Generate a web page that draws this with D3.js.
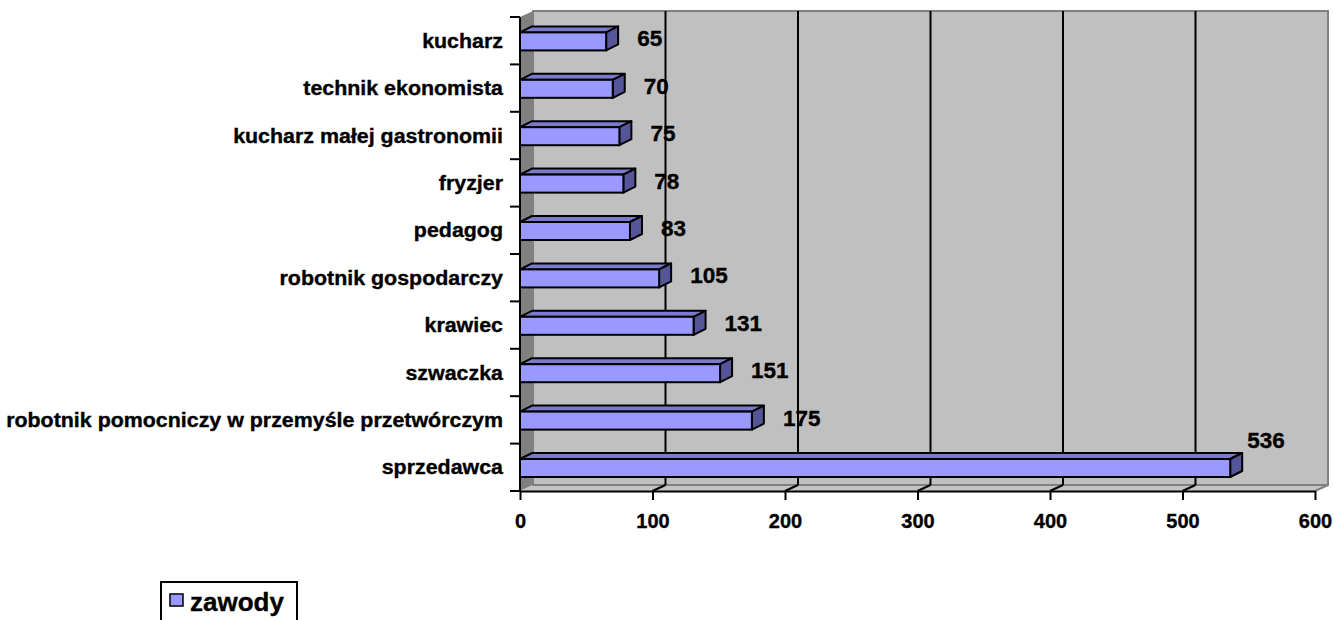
<!DOCTYPE html>
<html>
<head>
<meta charset="utf-8">
<script src="https://cdn.jsdelivr.net/npm/d3@7"></script>
<style>
html,body{margin:0;padding:0;background:#fff;}
svg{display:block;}
text{font-family:"Liberation Sans",Arial,sans-serif;font-weight:bold;fill:#000;stroke:#000;stroke-width:0.35px;}
</style>
</head>
<body>
<svg id="chart" width="1334" height="620"></svg>
<script>
const categories = ["sprzedawca","robotnik pomocniczy w przemyśle przetwórczym","szwaczka","krawiec","robotnik gospodarczy","pedagog","fryzjer","kucharz małej gastronomii","technik ekonomista","kucharz"];
const values = [536,175,151,131,105,83,78,75,70,65];
const xTicks = [0,100,200,300,400,500,600];
const seriesName = "zawody";

(function(){
const svg = d3.select("#chart");
const x = d3.scaleLinear().domain([0,600]).range([520,1315]);
const y = d3.scaleBand().domain(categories).range([491,17]).padding(0);
const DX = 13, DY = -6;     // wall depth
const BDX = 12, BDY = -6;   // bar depth
const step = y.step();
const yTop = 17, yBot = 491;
const pts = a => a.map(p=>p.join(",")).join(" ");

// back wall
svg.append("rect").attr("x",x(0)+DX).attr("y",yTop+DY).attr("width",x(600)-x(0)).attr("height",yBot-yTop)
  .attr("fill","#c0c0c0");
// left wall
svg.append("polygon").attr("points",pts([[x(0),yTop],[x(0)+DX,yTop+DY],[x(0)+DX,yBot+DY],[x(0),yBot]]))
  .attr("fill","#808080");
// floor
svg.append("polygon").attr("points",pts([[x(0),yBot],[x(0)+DX,yBot+DY],[x(600)+DX,yBot+DY],[x(600),yBot]]))
  .attr("fill","#c4c4c4");
// wall borders
svg.append("path").attr("d",`M${x(0)+DX},${yTop+DY}H${x(600)+DX}V${yBot+DY}H${x(0)+DX}Z`)
  .attr("fill","none").attr("stroke","#808080").attr("stroke-width",2);
svg.append("line").attr("x1",x(600)).attr("y1",yBot).attr("x2",x(600)+DX).attr("y2",yBot+DY)
  .attr("stroke","#808080").attr("stroke-width",2);

// gridlines
const grid = xTicks.filter(t=>t>0 && t<600);
svg.selectAll(".grid").data(grid).join("line").attr("class","grid")
  .attr("x1",d=>x(d)+DX).attr("x2",d=>x(d)+DX).attr("y1",yTop+DY).attr("y2",yBot+DY)
  .attr("stroke","#000").attr("stroke-width",2);
svg.selectAll(".gridf").data(grid).join("line").attr("class","gridf")
  .attr("x1",d=>x(d)).attr("x2",d=>x(d)+DX).attr("y1",yBot).attr("y2",yBot+DY)
  .attr("stroke","#000").attr("stroke-width",2);

// bars
const faceTop = d => y(d) + step*0.325;
const faceH = step*0.38;
const data = categories.map((c,i)=>({c,v:values[i]}));
const bars = svg.selectAll(".bar").data(data).join("g").attr("class","bar");
bars.append("polygon").attr("points",d=>{
  const y0=faceTop(d.c), x0=x(0), x1=x(d.v);
  return pts([[x0,y0],[x0+BDX,y0+BDY],[x1+BDX,y0+BDY],[x1,y0]]);
}).attr("fill","#7b7bcc").attr("stroke","#000").attr("stroke-width",2).attr("stroke-linejoin","round");
bars.append("polygon").attr("points",d=>{
  const y0=faceTop(d.c), x1=x(d.v);
  return pts([[x1,y0],[x1+BDX,y0+BDY],[x1+BDX,y0+BDY+faceH],[x1,y0+faceH]]);
}).attr("fill","#55559a").attr("stroke","#000").attr("stroke-width",2).attr("stroke-linejoin","round");
bars.append("rect").attr("x",x(0)).attr("y",d=>faceTop(d.c)).attr("width",d=>x(d.v)-x(0)).attr("height",faceH)
  .attr("fill","#9999ff").attr("stroke","#000").attr("stroke-width",2);

// axes
svg.append("line").attr("x1",x(0)).attr("x2",x(0)).attr("y1",yTop).attr("y2",yBot).attr("stroke","#000").attr("stroke-width",2);
const bounds = categories.map(c=>y(c)).concat([yBot]);
svg.selectAll(".ytick").data(bounds).join("line").attr("class","ytick")
  .attr("x1",x(0)-10).attr("x2",x(0)).attr("y1",d=>d).attr("y2",d=>d).attr("stroke","#000").attr("stroke-width",2);

const xAxis = svg.append("g").attr("transform",`translate(0,${yBot})`)
  .call(d3.axisBottom(x).tickValues(xTicks).tickSize(9).tickSizeOuter(0).tickPadding(14));
xAxis.select(".domain").attr("stroke","#000").attr("stroke-width",2);
xAxis.selectAll(".tick line").attr("stroke","#000").attr("stroke-width",2);
xAxis.selectAll(".tick text").attr("font-size",20).attr("font-family","Liberation Sans, Arial, sans-serif").attr("font-weight","bold").attr("fill","#000");

// category labels
svg.selectAll(".clabel").data(categories).join("text").attr("class","clabel")
  .attr("transform",d=>`translate(503,${y(d)+step*0.5+7}) scale(1.07,1)`)
  .attr("text-anchor","end").attr("font-size",20).text(d=>d);

// value labels
svg.selectAll(".vlabel").data(data).join("text").attr("class","vlabel")
  .attr("x",d=> d.v>400 ? x(d.v)+17 : x(d.v)+31)
  .attr("y",d=> faceTop(d.c)+faceH/2-3+8 - (d.v>400?25:0))
  .attr("font-size",22.5).text(d=>d.v);

// legend
const lg = svg.append("g");
lg.append("rect").attr("x",161).attr("y",582).attr("width",136).attr("height",50).attr("fill","#fff").attr("stroke","#000").attr("stroke-width",2);
lg.append("rect").attr("x",170).attr("y",594).attr("width",13).attr("height",12).attr("fill","#9999ff").attr("stroke","#000").attr("stroke-width",1.5);
lg.append("text").attr("x",190).attr("y",611).attr("font-size",26).text(seriesName);
})();
</script>
</body>
</html>
